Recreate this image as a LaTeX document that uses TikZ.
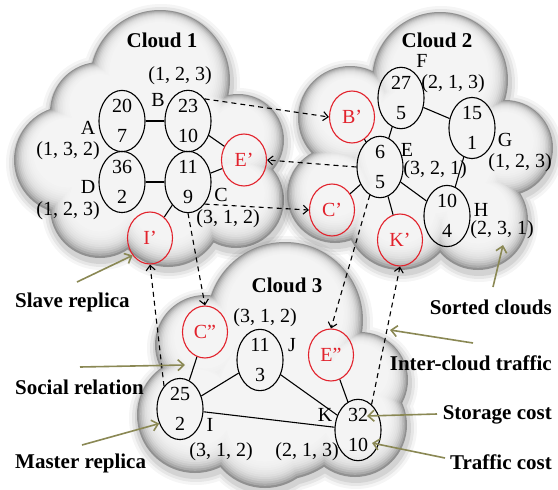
\documentclass[tikz,border=0pt]{standalone}
\usepackage{fontspec}
\setmainfont{Liberation Serif}
\usetikzlibrary{arrows.meta,shapes.geometric,calc}

\definecolor{repred}{RGB}{226,34,44}
\definecolor{annot}{RGB}{138,136,84}

% circle lists (x/y/r) whose union forms each cloud
\def\cloudA{160/80/70, 100/112/50, 68/160/54, 100/208/50, 168/212/55, 238/140/46, 236/200/48, 160/150/85}
\def\cloudB{440/80/68, 350/118/52, 335/195/48, 400/215/55, 478/220/50, 505/148/48, 430/155/85}
\def\cloudC{285/320/78, 205/345/50, 195/415/58, 265/430/58, 360/380/48, 355/425/52, 280/400/80}

% soft shadow round a cloud
\newcommand\cloudshadow[1]{%
  \foreach \g/\o in {9/0.04,6/0.06,3/0.08}{%
    \fill[black,opacity=\o] \foreach \cx/\cy/\cr in #1 { (\cx+1,\cy+3) circle[radius=\cr+(\g)] };
  }%
}
% cloud body: grey rim fading to a light inside, rim heavier at the bottom
\newcommand\cloud[1]{%
  \cloudshadow{#1}%
  \foreach \k in {0,...,12}{%
    \pgfmathsetmacro\sh{1.6*\k}%
    \pgfmathsetmacro\up{0.6*\k}%
    \pgfmathsetmacro\gv{3+40*0.76^\k}%
    \fill[black!\gv] \foreach \cx/\cy/\cr in #1 { (\cx,\cy-\up) circle[radius=\cr-\sh] };
  }%
}

\begin{document}
\begin{tikzpicture}[x=1pt,y=-1pt,
  vtx/.style={ellipse,draw,line width=1.1pt,minimum width=46pt,minimum height=54pt,
    inner sep=0pt,align=center,font=\fontsize{20}{30}\selectfont},
  rep/.style={ellipse,draw=repred,text=repred,line width=1.1pt,minimum width=45pt,
    minimum height=52pt,inner sep=0pt,font=\fontsize{20}{24}\selectfont},
  lbl/.style={inner sep=0pt,font=\fontsize{20}{24}\selectfont},
  ttl/.style={inner sep=0pt,font=\fontsize{21}{24}\selectfont\bfseries},
  note/.style={inner sep=0pt,font=\fontsize{21}{24}\selectfont\bfseries},
  link/.style={line width=1.1pt},
  xfer/.style={line width=1.1pt,dash pattern=on 5pt off 4pt,
    -{Straight Barb[length=5pt,width=9pt]}},
  callout/.style={line width=1.6pt,draw=annot,
    -{Straight Barb[length=6pt,width=11pt]}},
]
\useasboundingbox (0,0) rectangle (558,490);
\fill[white] (0,0) rectangle (558,490);

% clouds
\cloud{\cloudA}
\cloud{\cloudB}
\cloud{\cloudC}

% cloud titles
\node[ttl] (t1) at (162,40) {Cloud 1};
\node[ttl] (t2) at (437,40) {Cloud 2};
\node[ttl] (t3) at (287,285) {Cloud 3};

% cloud 1 users
\node[vtx] (A) at (122,121) {20\\7};
\node[vtx] (B) at (188,121) {23\\10};
\node[vtx] (D) at (122,182) {36\\2};
\node[vtx] (C) at (188,182) {11\\9};
\node[rep] (Ep) at (244,160) {E’};
\node[rep] (Ip) at (150,238) {I’};

% cloud 2 users
\node[vtx] (F) at (401,98) {27\\5};
\node[vtx] (G) at (472,128) {15\\1};
\node[vtx] (E) at (380,167) {6\\5};
\node[vtx] (H) at (447,216) {10\\4};
\node[rep] (Bp) at (352,117) {B’};
\node[rep] (Cp) at (332,210) {C’};
\node[rep] (Kp) at (400,240) {K’};

% cloud 3 users
\node[rep] (Cpp) at (205,332) {C”};
\node[vtx] (J) at (260,360) {11\\3};
\node[rep] (Epp) at (331,355) {E”};
\node[vtx] (I) at (180,409) {25\\2};
\node[vtx] (K) at (358,430) {32\\10};

% user names and cloud orders
\node[lbl] (lA) at (88,128) {A};
\node[lbl] (oA) at (68,151) {(1, 3, 2)};
\node[lbl] (lD) at (88,187) {D};
\node[lbl] (oD) at (68,211) {(1, 2, 3)};
\node[lbl] (lB) at (158,100) {B};
\node[lbl] (oB) at (180,76) {(1, 2, 3)};
\node[lbl] (lC) at (221,195) {C};
\node[lbl] (oC) at (228,219) {(3, 1, 2)};
\node[lbl] (lF) at (422,61) {F};
\node[lbl] (oF) at (453,84) {(2, 1, 3)};
\node[lbl] (lE) at (407,150) {E};
\node[lbl] (oE) at (435,170) {(3, 2, 1)};
\node[lbl] (lG) at (505,140) {G};
\node[lbl] (oG) at (520,163) {(1, 2, 3)};
\node[lbl] (lH) at (481,210) {H};
\node[lbl] (oH) at (502,230) {(2, 3, 1)};
\node[lbl] (oJ) at (265,318) {(3, 1, 2)};
\node[lbl] (lJ) at (292,345) {J};
\node[lbl] (lI) at (210,425) {I};
\node[lbl] (oI) at (221,452) {(3, 1, 2)};
\node[lbl] (lK) at (325,415) {K};
\node[lbl] (oK) at (307,452) {(2, 1, 3)};

% social relations
\draw[link] (A) -- (B);
\draw[link] (A) -- (D);
\draw[link] (D) -- (C);
\draw[link] (B) -- (C);
\draw[link] (B) -- (Ep);
\draw[link] (C) -- (Ep);
\draw[link] (C) -- (Ip);
\draw[link] (F) -- (G);
\draw[link] (F) -- (E);
\draw[link] (G) -- (H);
\draw[link] (E) -- (H);
\draw[link] (E) -- (Bp);
\draw[link] (E) -- (Cp);
\draw[link] (E) -- (Kp);
\draw[link] (I) -- (Cpp);
\draw[link] (I) -- (J);
\draw[link] (I) -- (K);
\draw[link] (J) -- (K);
\draw[link] (K) -- (Epp);

% inter-cloud traffic
\draw[xfer] (B.north east) -- (Bp.west);
\draw[xfer] (E.west) -- (Ep.east);
\draw[xfer] (C.south east) -- (Cp.west);
\draw[xfer] (C.south) -- (Cpp.north);
\draw[xfer] (I.125) -- (Ip.south);
\draw[xfer] (E.250) -- (Epp.north);
\draw[xfer] (K.62) -- (Kp.south);

% legend texts
\node[note,anchor=west] (nSlave) at (15,302) {Slave replica};
\node[note,anchor=west] (nSocial) at (15,387) {Social relation};
\node[note,anchor=west] (nMaster) at (15,463) {Master replica};
\node[note,anchor=east] (nSorted) at (552,307) {Sorted clouds};
\node[note,anchor=east] (nInter) at (552,363) {Inter-cloud traffic};
\node[note,anchor=east] (nStore) at (552,415) {Storage cost};
\node[note,anchor=east] (nTraffic) at (552,462) {Traffic cost};

% callout ends
\coordinate (sSlave) at (77,282);
\coordinate (sSocial) at (80,367);
\coordinate (hSocial) at (185,365);
\coordinate (sMaster) at (82,445);
\coordinate (sSorted) at (493,287);
\coordinate (hSorted) at (503,245);
\coordinate (sInter) at (473,343);
\coordinate (hInter) at (390,330);
\coordinate (sStore) at (437,414);
\coordinate (hStore) at (367,416);
\coordinate (sTraffic) at (445,458);
\coordinate (hTraffic) at (372,443);

\draw[callout] (sSlave) -- (Ip.225);
\draw[callout] (sSocial) -- (hSocial);
\draw[callout] (sMaster) -- (I.215);
\draw[callout] (sSorted) -- (hSorted);
\draw[callout] (sInter) -- (hInter);
\draw[callout] (sStore) -- (hStore);
\draw[callout] (sTraffic) -- (hTraffic);
\end{tikzpicture}
\end{document}
